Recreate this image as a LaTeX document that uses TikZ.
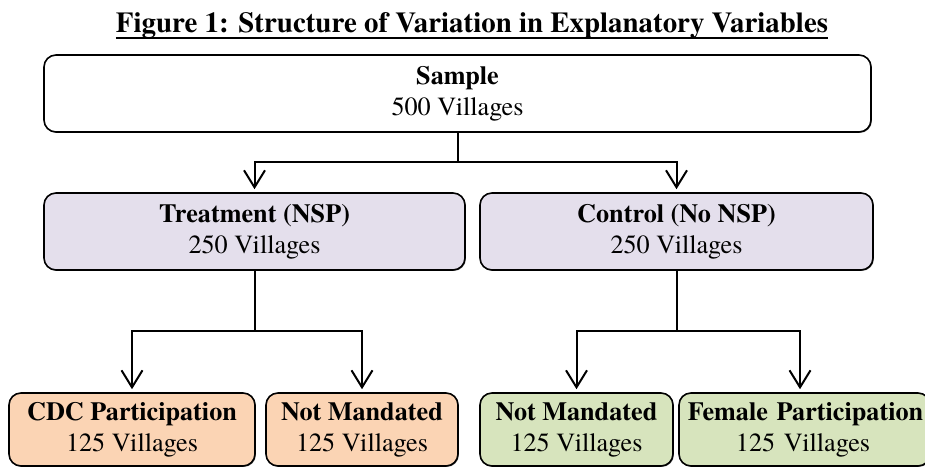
\documentclass[tikz,border=0pt]{standalone}
\usepackage{fontspec}
\setmainfont{texgyretermes}[Extension=.otf, UprightFont=*-regular, BoldFont=*-bold, ItalicFont=*-italic, BoldItalicFont=*-bolditalic]
\usetikzlibrary{arrows.meta,shadows}
\definecolor{lav}{HTML}{E4DFEC}
\definecolor{peach}{HTML}{FBD4B4}
\definecolor{olive}{HTML}{D7E4BD}
\newcommand\myul[1]{\setbox0\hbox{#1}\leavevmode\rlap{\rule[-6.5pt]{\wd0}{2pt}}\box0}
\tikzset{
  box/.style={draw=black, line width=1.6pt, rounded corners=12pt, inner sep=0pt,
    align=center, font=\fontsize{26.2}{31}\selectfont,
    drop shadow={shadow xshift=0.9pt, shadow yshift=-0.9pt, opacity=0.55, fill=black}},
  topbox/.style={box, fill=white, minimum height=77pt},
  midbox/.style={box, fill=lav, minimum height=77pt},
  lowbox/.style={box, minimum height=73pt},
  conn/.style={draw=black, line width=2pt, shorten >=3pt,
    -{Straight Barb[length=17pt,width=21pt,line width=2pt]}}
}
\begin{document}
\begin{tikzpicture}[x=1pt,y=-1pt]
\useasboundingbox (0,0) rectangle (925,466);
\node[font=\bfseries\fontsize{28.9}{34}\selectfont, anchor=base] (title) at (472,32) {\myul{Figure 1: Structure of Variation in Explanatory Variables}};
\node[topbox, minimum width=827pt] (sample) at (457.5,93.5) {\textbf{Sample}\\500 Villages};
\node[midbox, minimum width=421pt] (treat) at (254.5,231.5) {\textbf{Treatment (NSP)}\\250 Villages};
\node[midbox, minimum width=393pt] (ctrl) at (676.5,231.5) {\textbf{Control (No NSP)}\\250 Villages};
\node[lowbox, fill=peach, minimum width=246pt] (cdc) at (132,429.5) {\textbf{CDC Participation}\\125 Villages};
\node[lowbox, fill=peach, minimum width=192pt] (nmt) at (362,429.5) {\textbf{Not Mandated}\\125 Villages};
\node[lowbox, fill=olive, minimum width=193pt] (nmc) at (576.5,429.5) {\textbf{Not Mandated}\\125 Villages};
\node[lowbox, fill=olive, minimum width=251pt, text width=251pt] (fem) at (804.5,429.5) {\hspace*{2pt}\textbf{Female Participation}\\\hspace*{-3pt}125 Villages};
\coordinate (b1) at (0,162);
\coordinate (b2) at (0,331);
\draw[conn] (sample.south) -- (sample.south |- b1) -| (treat.north);
\draw[conn] (sample.south) -- (sample.south |- b1) -| (ctrl.north);
\draw[conn] (treat.south) -- (treat.south |- b2) -| (cdc.north);
\draw[conn] (treat.south) -- (treat.south |- b2) -| (nmt.north);
\draw[conn] (ctrl.south) -- (ctrl.south |- b2) -| (nmc.north);
\draw[conn] (ctrl.south) -- (ctrl.south |- b2) -| ([xshift=-4.5pt]fem.north);
\end{tikzpicture}
\end{document}
